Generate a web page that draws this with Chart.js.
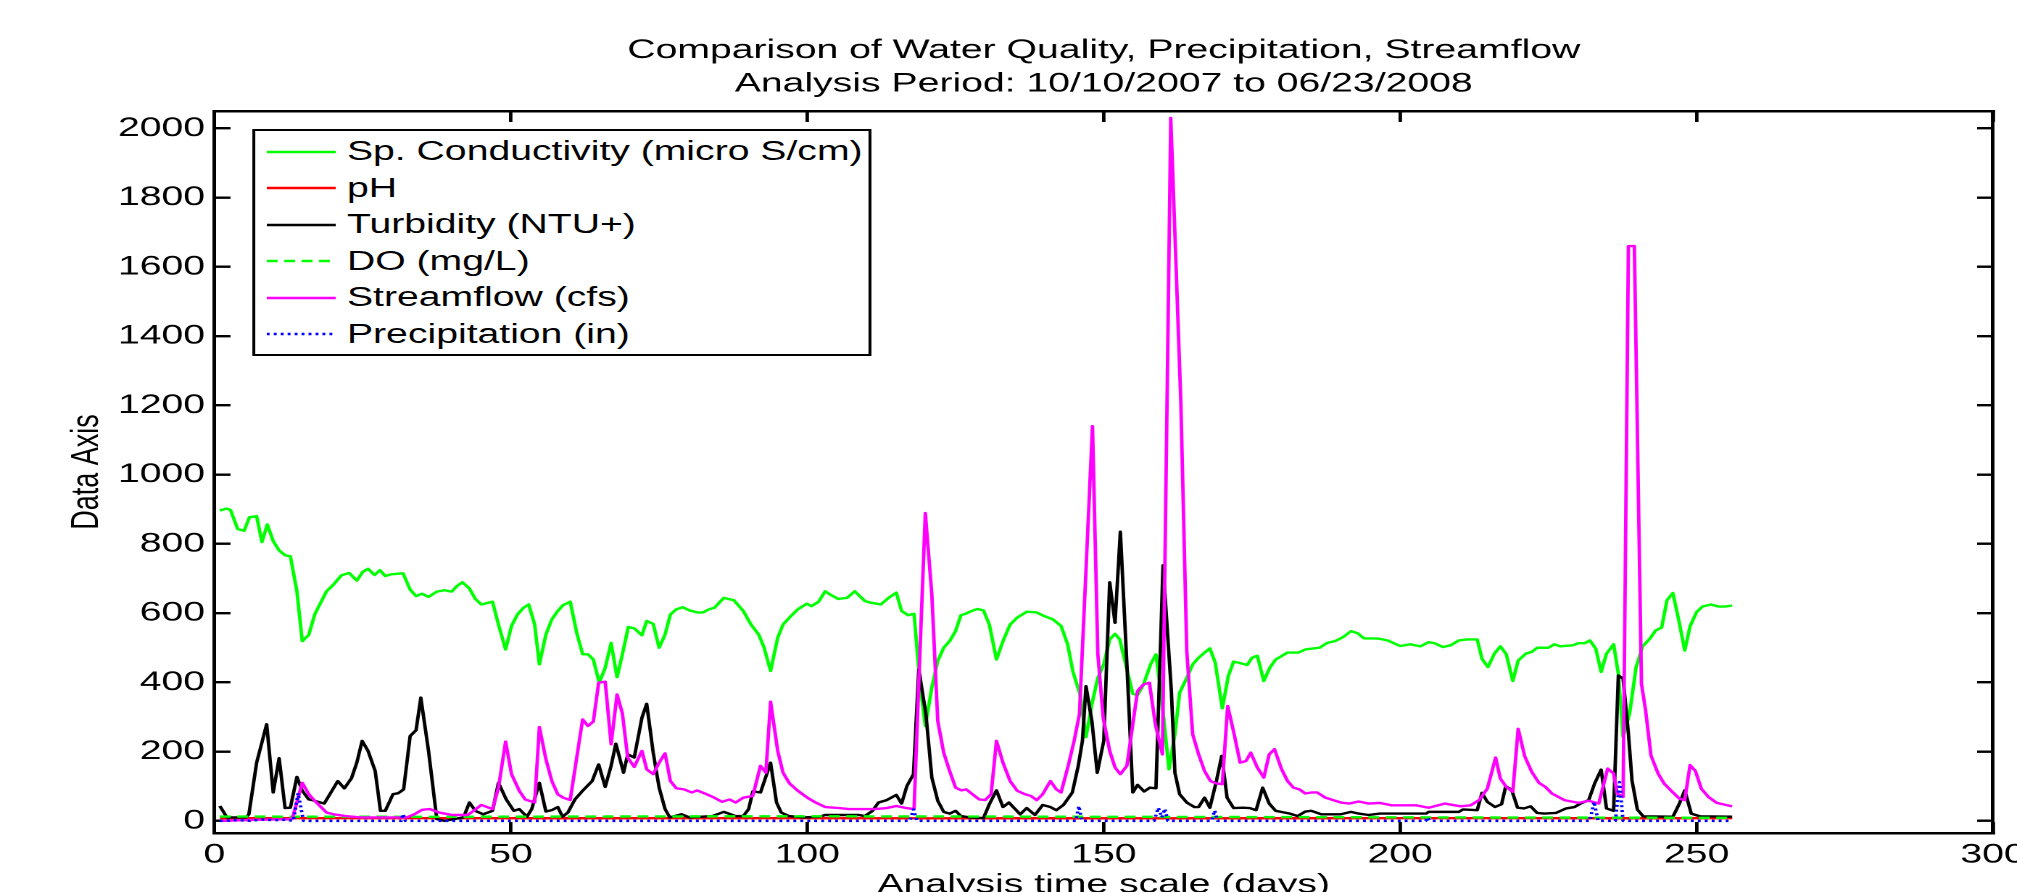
<!DOCTYPE html>
<html lang="en">
<head>
<meta charset="UTF-8">
<title>Comparison of Water Quality, Precipitation, Streamflow</title>
<script src="https://cdn.jsdelivr.net/npm/chart.js"></script>
<style>
  body { margin: 0; background: #fff; }
  #frame { position: relative; width: 2017px; height: 892px; overflow: hidden; background: #fff; }
  /* the original figure is stretched sideways, so the whole drawing is too */
  #stretch { position: absolute; left: 0; top: 0; width: 1434px; height: 920px; transform: scaleX(1.45); transform-origin: 0 0; }
  #legend {
    position: absolute; left: 174.3px; top: 129.3px; width: 427.1px; height: 226.7px;
    box-sizing: border-box; padding-top: 2.3px; background: #fff;
    border: 2.5px solid #000; border-left-width: 2.1px; border-right-width: 2.1px;
    font: 27px 'Liberation Sans', Arial, Helvetica, sans-serif; color: #000;
  }
  .row { display: flex; align-items: center; height: 36.5px; white-space: nowrap; }
  .row svg { margin-left: 7.8px; margin-right: 7.6px; flex: none; }
</style>
</head>
<body>
<div id="frame">
  <div id="stretch">
    <canvas id="chart" width="1434" height="920"></canvas>
    <div id="legend"></div>
  </div>
</div>
<script>
const titleLines = ['Comparison of Water Quality, Precipitation, Streamflow', 'Analysis Period: 10/10/2007 to 06/23/2008'];
const xTickValues = [0, 50, 100, 150, 200, 250, 300];
const yTickValues = [0, 200, 400, 600, 800, 1000, 1200, 1400, 1600, 1800, 2000];

const condDays = [0.9, 2, 2.7, 3.9, 5, 5.9, 7.1, 8, 8.9, 9.9, 10.9, 11.9, 12.8, 13.9, 14.8, 15.9, 16.9, 17.9, 18.9, 20.1,
  21.4, 22.7, 24, 25, 25.9, 27, 27.9, 28.8, 29.8, 31.8, 33, 34, 35, 36.1, 37.5, 38.8, 40, 40.9, 41.8, 43,
  44, 45, 46.9, 47.9, 49.1, 50.1, 51.1, 52.1, 53, 54, 54.8, 55.9, 56.9, 57.9, 58.8, 60, 61.1, 62.1, 63, 63.9,
  64.9, 65.9, 66.9, 67.9, 68.8, 69.8, 70.8, 72.1, 72.9, 74, 75, 76, 76.9, 77.9, 79, 80.1, 81.4, 82.4, 83.4, 84.3,
  85.9, 87.6, 89.2, 90.5, 91.8, 92.7, 93.8, 95, 95.9, 97.2, 98.4, 99.9, 100.7, 101.9, 103, 104, 105.2, 106.7, 108, 109.7,
  110.7, 112.4, 113.7, 115, 115.9, 117, 118, 119, 119.9, 121, 122, 123, 124, 125, 125.9, 126.7, 127.7, 128.7, 129.7, 130.7,
  131.9, 133, 134.2, 135.4, 137, 138.7, 140, 141.4, 142.8, 143.9, 144.8, 146, 147, 148, 149, 150, 151, 151.9, 152.7, 153.7,
  154.9, 155.7, 156.7, 157.9, 158.8, 159.7, 161, 162, 162.8, 164, 165, 166, 167, 167.9, 168.8, 170, 171, 171.9, 173, 174.2,
  175, 175.9, 177, 178, 179, 181, 182.8, 184, 186.4, 187.7, 189, 190.4, 191.7, 192.8, 193.9, 195.4, 196.5, 197.9, 200, 201.7,
  203.4, 204.8, 205.8, 207.2, 208.5, 209.9, 211.3, 213, 213.8, 214.8, 215.9, 216.9, 217.9, 219, 219.9, 221.2, 222.2, 223.1, 225, 226,
  227, 229.1, 230.1, 231.1, 232, 233, 233.9, 234.8, 236, 236.8, 237.6, 238.7, 239.8, 240.9, 242.1, 243.1, 244.1, 245, 246, 247,
  248, 248.9, 250, 251, 252.4, 253.7, 254.8, 256];
const condVals = [896, 902, 898, 843, 838, 877, 880, 805, 856, 808, 781, 767, 764, 663, 519, 537, 596, 630, 663, 683,
  709, 716, 694, 719, 728, 710, 724, 707, 712, 715, 668, 649, 656, 647, 662, 666, 662, 678, 689, 671,
  641, 625, 633, 567, 495, 563, 596, 615, 625, 567, 452, 538, 582, 606, 623, 633, 543, 481, 481, 466,
  399, 442, 514, 415, 481, 560, 556, 536, 577, 569, 500, 538, 596, 611, 617, 608, 602, 602, 611, 615,
  644, 637, 606, 567, 538, 500, 433, 529, 567, 591, 611, 627, 620, 633, 663, 652, 641, 644, 663, 635,
  630, 625, 644, 659, 606, 594, 598, 394, 274, 385, 462, 500, 519, 548, 594, 598, 606, 612, 608, 567,
  466, 519, 567, 587, 604, 602, 591, 582, 563, 510, 431, 365, 242, 337, 413, 452, 524, 540, 524, 452,
  367, 363, 394, 452, 481, 365, 149, 250, 370, 413, 452, 471, 486, 498, 457, 325, 418, 460, 456, 450,
  471, 477, 404, 442, 466, 486, 486, 495, 500, 514, 519, 531, 548, 542, 527, 527, 526, 521, 505, 510,
  504, 516, 513, 502, 507, 521, 524, 524, 468, 444, 483, 504, 481, 404, 463, 483, 488, 500, 500, 510,
  504, 507, 513, 513, 521, 497, 430, 483, 510, 425, 242, 310, 444, 504, 526, 550, 558, 637, 658, 579,
  492, 562, 603, 619, 625, 619, 619, 622];

const phDays = [0.9, 20, 40, 60, 80, 100, 120, 140, 160, 180, 200, 220, 240, 256];
const phVals = [7.9, 7.8, 7.7, 7.6, 7.8, 7.7, 7.5, 7.6, 7.4, 7.6, 7.7, 7.8, 7.6, 7.9];

const turbDays = [0.9, 2.1, 5.3, 5.8, 7.1, 8.8, 9.9, 10.9, 11.9, 12.8, 13.9, 14.8, 15.9, 16.9, 18.5, 20.8, 21.9, 23.1, 24, 24.9,
  25.9, 27.1, 28, 28.8, 30.1, 31, 31.9, 33, 34, 34.8, 36.1, 37.5, 38.8, 42, 43, 44, 45.3, 46.9, 47.9, 49.2,
  50.5, 51.4, 52.7, 53.5, 54.8, 55.9, 56.9, 57.9, 58.7, 59.6, 60.8, 62.1, 63.7, 64.8, 65.9, 66.9, 67.7, 69, 69.7, 70.8,
  72.1, 72.9, 74, 75, 76, 76.8, 78.8, 80.1, 84, 85.9, 87.9, 89.2, 90.1, 90.8, 92.1, 93.8, 94.8, 95.6, 96.9, 99.4,
  102, 103, 108.7, 109.7, 111, 112, 113.4, 115, 115.9, 116.8, 117.9, 118.8, 120, 121, 122, 123, 124, 125, 125.9, 127.4,
  129.7, 130.7, 131.9, 133, 134, 135.9, 137, 138.4, 139.7, 141, 142, 143.2, 144.7, 145.7, 146.4, 147, 148, 148.9, 150, 151,
  151.9, 152.8, 153.9, 154.9, 155.7, 156.8, 157.8, 158.8, 160, 161.4, 162, 162.8, 164, 165.3, 166, 167, 167.9, 169, 169.9, 170.8,
  171.9, 173.4, 174.6, 175.7, 176.8, 177.9, 179, 181.4, 182.7, 184, 185, 186.7, 188.4, 190, 191.7, 193, 194.7, 196.6, 204.4, 204.8,
  209.9, 210.6, 213, 213.8, 214.7, 216, 217.1, 217.8, 218.8, 219.8, 220.9, 222, 223.1, 224.3, 226.3, 228, 229.4, 230.4, 231.8, 232.8,
  233.9, 234.8, 236, 236.8, 237.6, 238.5, 239.1, 240, 241, 246, 247.1, 248, 249.1, 250.6, 256];
const turbVals = [43, 10, 10, 19, 168, 279, 82, 181, 37, 38, 127, 87, 62, 58, 50, 115, 94, 123, 168, 231,
  202, 144, 29, 29, 77, 80, 91, 245, 262, 356, 202, 5, 0, 10, 53, 29, 19, 29, 110, 62,
  29, 34, 12, 34, 110, 27, 31, 40, 12, 24, 62, 87, 115, 163, 98, 159, 223, 139, 192, 183,
  298, 338, 197, 96, 34, 10, 19, 10, 14, 26, 14, 14, 34, 85, 82, 168, 53, 24, 14, 10,
  12, 17, 17, 14, 29, 53, 60, 75, 50, 101, 135, 437, 308, 125, 58, 26, 21, 29, 14, 10,
  8, 48, 88, 40, 53, 19, 37, 17, 46, 40, 31, 46, 82, 159, 231, 389, 288, 139, 231, 689,
  572, 835, 452, 82, 104, 85, 96, 94, 738, 375, 139, 77, 53, 40, 40, 67, 38, 115, 188, 67,
  37, 38, 37, 31, 96, 50, 29, 21, 14, 27, 29, 19, 19, 19, 26, 21, 17, 21, 21, 26,
  26, 33, 31, 81, 55, 40, 48, 100, 90, 38, 36, 42, 23, 21, 23, 36, 40, 50, 60, 108,
  148, 36, 29, 420, 411, 252, 117, 33, 13, 12, 50, 88, 21, 13, 12];

const doDays = [0.9, 20, 40, 60, 80, 100, 120, 140, 160, 180, 200, 220, 240, 256];
const doVals = [12.5, 12.0, 11.8, 12.4, 13.0, 13.2, 12.8, 12.1, 11.5, 11.0, 10.2, 9.6, 9.2, 8.8];

const flowDays = [0.9, 7, 13.1, 14.8, 15.9, 16.9, 18.9, 20.1, 22.1, 24.7, 32.4, 33.7, 35, 36.3, 37.9, 40.1, 42.7, 43.7, 45, 46.9,
  47.9, 49.1, 50.1, 51.4, 52.4, 54, 54.8, 55.9, 56.9, 57.9, 58.8, 60, 61.1, 62.1, 63, 63.9, 64.8, 65.9, 66.9, 67.9,
  68.8, 69.7, 70.8, 72.1, 72.9, 74, 75, 76, 76.9, 77.9, 79.2, 80.5, 81.4, 83, 84.3, 85.6, 86.9, 87.9, 89.2, 90.8,
  92.1, 93, 93.8, 95, 95.9, 97, 98.4, 100, 101.4, 103, 105.4, 107, 109.4, 111.4, 113.4, 115, 116.7, 118, 119, 119.9,
  121, 122, 123, 124, 125, 126, 126.8, 128, 129, 130, 131, 131.9, 133, 134.2, 135.4, 136.7, 137.7, 138.7, 139.7, 141,
  142, 142.8, 144, 145, 145.9, 148.1, 149, 149.9, 151, 151.9, 152.8, 153.9, 154.9, 155.7, 156.7, 157.7, 158.7, 159.9, 161.3, 162.2,
  163, 164, 165, 166, 167, 168, 169, 170, 170.9, 172, 173, 174, 174.8, 175.9, 177, 177.9, 178.8, 180, 181, 182,
  183, 184, 185, 186, 187.4, 188.7, 190, 191.4, 193, 194.7, 196.5, 198.6, 202.7, 204.8, 207.5, 210.2, 211.9, 213.3, 214.7, 216.1,
  216.9, 217.9, 219, 219.9, 221, 222.2, 223.4, 224.5, 225.6, 227.7, 230.1, 231.8, 233.5, 235, 236, 236.6, 237.6, 238.5, 239.5, 240.7,
  241.4, 242.3, 243.5, 244.5, 245.9, 247.1, 248, 248.9, 249.8, 250.8, 252, 253.4, 256];
const flowVals = [0, 3, 5, 110, 77, 58, 24, 19, 14, 10, 10, 19, 32, 34, 24, 17, 17, 29, 46, 34,
  96, 229, 135, 87, 62, 53, 271, 178, 115, 77, 67, 60, 183, 293, 274, 287, 399, 402, 221, 365,
  310, 183, 156, 202, 149, 135, 168, 195, 115, 94, 91, 82, 88, 77, 67, 55, 62, 53, 67, 72,
  159, 139, 344, 202, 139, 108, 87, 67, 53, 40, 37, 34, 34, 34, 37, 43, 37, 34, 490, 889,
  654, 288, 197, 144, 96, 88, 91, 75, 62, 60, 77, 231, 168, 115, 87, 77, 72, 60, 77, 115,
  91, 82, 159, 231, 308, 1140, 481, 298, 202, 154, 135, 159, 279, 375, 394, 399, 279, 192, 2030, 1600,
  1210, 490, 250, 192, 144, 115, 108, 106, 332, 250, 168, 173, 197, 154, 125, 192, 207, 149, 115, 96,
  91, 79, 82, 82, 67, 60, 53, 50, 56, 50, 52, 45, 45, 38, 50, 42, 45, 60, 93, 183,
  122, 98, 84, 266, 187, 141, 110, 98, 79, 60, 52, 58, 50, 151, 137, 79, 69, 1660, 1660, 396,
  319, 189, 137, 108, 84, 64, 60, 161, 144, 93, 69, 52, 42];

const precipDays = [0.9, 4, 6, 8, 10, 12, 13.3, 14.1, 15, 31.5, 31.8, 32.2, 117.3, 117.9, 118.5, 145.3, 145.8, 146.3, 158.5, 159.2,
  159.8, 160.3, 160.8, 168.2, 168.7, 169.2, 204.3, 204.6, 205, 232, 232.7, 233.4, 236.3, 237, 237.6, 256];
const precipVals = [0, 2, 0, 4, 2, 3, 0, 80, 0, 0, 20, 0, 0, 33, 0, 0, 43, 0, 0, 38,
  10, 35, 0, 0, 30, 0, 0, 10, 0, 0, 55, 0, 0, 112, 0, 0];

// figure geometry, measured on the full-size picture
const S = 1.45;
const CW = 1434, CH = 920;
const area = { left: 214.5 / S, right: 1993 / S, top: 111, bottom: 833 };

Chart.defaults.font.family = "'Liberation Sans', Arial, Helvetica, sans-serif";
Chart.defaults.color = '#000';

function series(days, vals) {
  return days.map((d, i) => ({ x: d, y: vals[i] }));
}

const setTicks = values => scale => { scale.ticks = values.map(v => ({ value: v })); };
const plain = v => String(v);

const grid = { drawOnChartArea: false, drawTicks: true, tickLength: -11, color: '#000', lineWidth: 2.4 };
const border = { display: true, color: '#000', width: 2.5 };

const headline = {
  id: 'headline',
  afterDraw(chart) {
    const { ctx, chartArea } = chart;
    const cx = (chartArea.left + chartArea.right) / 2;
    ctx.save();
    ctx.fillStyle = '#000';
    ctx.font = "27px 'Liberation Sans', Arial, Helvetica, sans-serif";
    ctx.textAlign = 'center';
    ctx.textBaseline = 'alphabetic';
    titleLines.forEach((line, i) => ctx.fillText(line, cx, 58 + i * 33.4));
    ctx.restore();
  }
};

const chart = new Chart(document.getElementById('chart'), {
  type: 'line',
  data: {
    datasets: [
      { label: 'Sp. Conductivity (micro S/cm)', data: series(condDays, condVals), borderColor: '#00ff00', order: 6 },
      { label: 'pH', data: series(phDays, phVals), borderColor: '#ff0000', order: 5 },
      { label: 'Turbidity (NTU+)', data: series(turbDays, turbVals), borderColor: '#000000', order: 4 },
      { label: 'DO (mg/L)', data: series(doDays, doVals), borderColor: '#00ff00', borderDash: [7.5, 4.5], order: 3 },
      { label: 'Streamflow (cfs)', data: series(flowDays, flowVals), borderColor: '#ff00ff', order: 2 },
      { label: 'Precipitation (in)', data: series(precipDays, precipVals), borderColor: '#0000ff', borderDash: [2, 2.8], order: 1 }
    ]
  },
  options: {
    responsive: false,
    animation: false,
    devicePixelRatio: 2,
    elements: {
      line: { borderWidth: 2.4, tension: 0, fill: false, borderJoinStyle: 'round' },
      point: { radius: 0, hitRadius: 0 }
    },
    layout: { padding: { left: 0, top: area.top, right: CW - area.right, bottom: 0 } },
    plugins: {
      legend: { display: false },
      tooltip: { enabled: false },
      title: { display: false }
    },
    scales: {
      x: {
        type: 'linear', position: 'bottom', min: 0, max: 300,
        afterBuildTicks: setTicks(xTickValues),
        afterFit: s => { s.height = CH - area.bottom; },
        border, grid,
        ticks: { font: { size: 27 }, padding: 16.8, maxRotation: 0, autoSkip: false, callback: plain },
        title: { display: true, text: 'Analysis time scale (days)', font: { size: 27 }, padding: { top: 0, bottom: 19 } }
      },
      y: {
        type: 'linear', position: 'left', min: -35, max: 2050,
        afterBuildTicks: setTicks(yTickValues),
        afterFit: s => { s.width = area.left; },
        border, grid,
        ticks: { font: { size: 27 }, padding: 17.5, autoSkip: false, callback: plain },
        title: { display: true, text: 'Data Axis', font: { size: 27 }, padding: { top: 44, bottom: 0 } }
      },
      x2: {
        type: 'linear', position: 'top', min: 0, max: 300,
        afterBuildTicks: setTicks(xTickValues),
        afterFit: s => { s.height = 0; },
        border, grid,
        ticks: { display: false }
      },
      y2: {
        type: 'linear', position: 'right', min: -35, max: 2050,
        afterBuildTicks: setTicks(yTickValues),
        afterFit: s => { s.width = 0; },
        border, grid,
        ticks: { display: false }
      }
    }
  },
  plugins: [headline]
});

// boxed legend in the upper left, built from the chart's own datasets
const legendBox = document.getElementById('legend');
chart.data.datasets.forEach(ds => {
  const row = document.createElement('div');
  row.className = 'row';
  const dash = (ds.borderDash || []).join(' ');
  row.innerHTML = '<svg width="47.6" height="12"><line x1="0" y1="6" x2="47.6" y2="6" stroke="' + ds.borderColor +
    '" stroke-width="2.4" stroke-dasharray="' + dash + '"/></svg><span>' + ds.label + '</span>';
  legendBox.appendChild(row);
});
</script>
</body>
</html>
